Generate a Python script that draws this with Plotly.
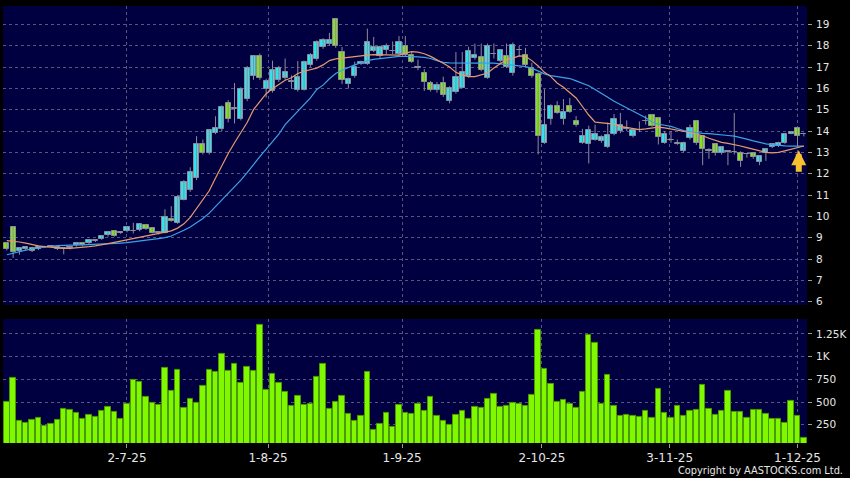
from plotly import graph_objects as go
from plotly.subplots import make_subplots

# trading-day labels shown on the time axis (bar index where each date falls)
tick_labels = ['2-7-25', '1-8-25', '1-9-25', '2-10-25', '3-11-25', '1-12-25']
tick_pos = [19, 41.3, 62.5, 84.6, 104.8, 125]

open_ = [8.73, 9.48, 8.37, 8.47, 8.53, 8.47, 8.56, 8.59, 8.58, 8.50,
         8.52, 8.65, 8.75, 8.77, 8.86, 8.96, 9.11, 9.30, 9.22, 9.30,
         9.31, 9.36, 9.61, 9.45, 9.23, 9.23, 9.90, 9.70, 10.79, 11.23,
         11.78, 13.37, 12.99, 13.93, 14.08, 15.32, 15.04, 14.58, 15.52, 16.57,
         17.50, 15.99, 15.86, 16.38, 16.49, 16.30, 15.91, 15.94, 17.08, 17.39,
         17.94, 18.10, 19.27, 17.70, 16.19, 16.58, 17.16, 17.16, 17.75, 17.50,
         17.80, 17.74, 17.61, 17.99, 17.55, 16.97, 16.74, 16.25, 15.91, 16.25,
         15.40, 15.83, 16.04, 16.57, 17.42, 17.47, 16.50, 17.60, 17.28, 17.50,
         16.70, 17.78, 17.55, 16.95, 16.66, 13.46, 14.55, 15.18, 14.58, 15.18,
         14.47, 13.46, 13.37, 13.60, 13.52, 13.27, 13.88, 13.99, 14.10, 13.79,
         14.03, 14.45, 14.77, 14.63, 13.46, 13.57, 13.42, 13.07, 13.65, 14.47,
         13.77, 13.08, 13.37, 12.99, 13.05, 13.00, 12.99, 12.90, 12.98, 12.55,
         12.98, 13.26, 13.29, 13.44, 13.88, 14.16, 13.85]
high = [8.80, 9.52, 8.52, 8.60, 8.57, 8.62, 8.62, 8.63, 8.60, 8.52,
        8.56, 8.78, 8.78, 8.92, 8.92, 9.10, 9.28, 9.32, 9.27, 9.52,
        9.70, 9.68, 9.64, 9.48, 9.30, 10.33, 10.48, 11.00, 11.70, 12.30,
        13.76, 13.60, 14.10, 14.69, 15.20, 15.45, 16.25, 16.05, 17.05, 17.55,
        17.63, 16.45, 17.30, 17.05, 17.40, 16.61, 17.28, 17.30, 17.65, 18.25,
        18.35, 18.60, 19.30, 17.94, 16.50, 17.25, 17.30, 18.80, 18.41, 18.00,
        18.10, 18.20, 18.45, 18.45, 17.70, 17.35, 16.90, 16.35, 16.30, 16.55,
        16.10, 17.70, 17.70, 17.95, 18.10, 18.10, 18.10, 18.10, 17.80, 18.10,
        18.15, 18.00, 17.90, 17.20, 16.75, 15.96, 15.25, 15.40, 15.50, 15.55,
        14.70, 14.10, 14.25, 14.30, 13.80, 14.40, 14.80, 14.85, 14.50, 14.10,
        14.45, 14.72, 14.80, 14.66, 14.00, 14.00, 13.60, 13.50, 14.30, 14.50,
        13.80, 13.20, 13.40, 13.30, 13.10, 14.85, 13.05, 12.95, 13.00, 12.85,
        13.20, 13.40, 13.50, 13.90, 14.00, 14.20, 13.92]
low = [8.40, 8.05, 8.20, 8.40, 8.33, 8.42, 8.52, 8.54, 8.42, 8.22,
       8.45, 8.58, 8.60, 8.70, 8.80, 8.90, 9.05, 9.05, 9.18, 9.25,
       9.20, 9.30, 9.36, 9.20, 9.15, 9.20, 9.75, 9.65, 10.75, 11.15,
       11.70, 12.90, 12.90, 13.85, 14.00, 14.40, 14.35, 14.50, 15.40, 16.40,
       16.40, 15.57, 15.80, 16.30, 16.40, 15.99, 15.85, 15.90, 17.00, 17.30,
       17.85, 18.00, 17.90, 16.20, 15.99, 16.50, 17.10, 17.10, 17.70, 17.40,
       17.60, 17.60, 17.55, 17.50, 17.20, 16.85, 15.88, 15.85, 15.80, 15.60,
       15.30, 15.75, 16.00, 16.50, 17.35, 16.80, 16.45, 17.40, 17.20, 16.95,
       16.60, 17.50, 17.00, 16.50, 12.91, 13.40, 14.30, 14.80, 14.30, 14.85,
       14.20, 13.40, 12.48, 13.55, 13.45, 13.20, 13.80, 13.90, 14.00, 13.70,
       13.95, 14.30, 14.20, 13.37, 13.40, 13.45, 13.35, 13.00, 13.60, 13.35,
       12.40, 12.70, 12.85, 12.90, 12.40, 12.90, 12.32, 12.75, 12.70, 12.40,
       12.60, 13.20, 13.25, 13.40, 13.85, 13.30, 13.75]
close = [8.45, 8.34, 8.50, 8.57, 8.40, 8.57, 8.58, 8.58, 8.48, 8.49,
         8.53, 8.75, 8.68, 8.89, 8.86, 9.07, 9.25, 9.07, 9.23, 9.48,
         9.32, 9.64, 9.39, 9.23, 9.24, 9.98, 9.79, 10.89, 11.62, 12.09,
         13.37, 12.99, 14.04, 14.12, 15.13, 14.58, 15.05, 15.99, 16.97, 17.50,
         16.49, 16.35, 16.88, 16.97, 16.75, 16.30, 16.53, 17.24, 17.58, 18.17,
         18.28, 18.28, 17.97, 16.38, 16.46, 17.00, 17.24, 18.17, 17.94, 17.94,
         18.00, 17.75, 18.17, 17.58, 17.24, 16.98, 16.30, 15.91, 16.18, 15.68,
         16.04, 16.53, 16.77, 17.75, 17.58, 16.88, 17.97, 17.62, 17.78, 17.00,
         18.02, 17.80, 17.08, 16.57, 13.76, 14.30, 15.18, 14.85, 14.89, 14.89,
         14.27, 13.77, 14.07, 13.88, 13.70, 13.82, 14.58, 14.27, 14.12, 14.04,
         14.05, 14.47, 14.24, 13.70, 13.88, 13.58, 13.41, 13.46, 14.16, 13.44,
         13.18, 13.07, 12.97, 13.26, 13.04, 13.02, 12.60, 12.91, 12.79, 12.82,
         13.18, 13.37, 13.46, 13.88, 13.96, 13.77, 13.86]

# moving averages as drawn on the chart
ma_short = [8.86, 8.84, 8.80, 8.75, 8.68, 8.62, 8.58, 8.55, 8.52, 8.50,
            8.50, 8.52, 8.55, 8.58, 8.62, 8.66, 8.72, 8.78, 8.84, 8.90,
            8.97, 9.04, 9.10, 9.16, 9.20, 9.26, 9.32, 9.45, 9.65, 9.95,
            10.35, 10.75, 11.20, 11.80, 12.40, 12.95, 13.45, 13.90, 14.40, 15.00,
            15.35, 15.75, 15.98, 16.20, 16.38, 16.50, 16.70, 16.80, 16.88, 16.95,
            17.10, 17.30, 17.38, 17.42, 17.45, 17.48, 17.52, 17.56, 17.58, 17.58,
            17.56, 17.55, 17.56, 17.65, 17.72, 17.70, 17.62, 17.50, 17.35, 17.18,
            17.00, 16.75, 16.62, 16.55, 16.55, 16.62, 16.72, 16.95, 17.15, 17.35,
            17.42, 17.52, 17.50, 17.30, 17.05, 16.75, 16.55, 16.25, 16.05, 15.80,
            15.55, 15.15, 14.75, 14.42, 14.38, 14.35, 14.32, 14.22, 14.18, 14.12,
            14.07, 14.10, 14.15, 14.18, 14.15, 14.10, 14.04, 13.98, 13.93, 13.86,
            13.78, 13.66, 13.55, 13.47, 13.42, 13.37, 13.30, 13.22, 13.14, 13.05,
            13.00, 12.98, 13.00, 13.07, 13.15, 13.23, 13.30]
ma_long = [8.20, 8.28, 8.35, 8.42, 8.47, 8.52, 8.56, 8.60, 8.63, 8.65,
           8.65, 8.65, 8.66, 8.67, 8.68, 8.70, 8.72, 8.73, 8.75, 8.77,
           8.80, 8.84, 8.88, 8.92, 8.96, 9.00, 9.08, 9.20, 9.35, 9.50,
           9.68, 9.90, 10.15, 10.45, 10.75, 11.05, 11.40, 11.70, 12.05, 12.45,
           12.80, 13.15, 13.50, 13.85, 14.30, 14.60, 14.95, 15.25, 15.55, 15.95,
           16.15, 16.45, 16.70, 16.85, 16.98, 17.10, 17.20, 17.30, 17.36, 17.40,
           17.44, 17.47, 17.50, 17.50, 17.50, 17.48, 17.45, 17.40, 17.30, 17.22,
           17.19, 17.18, 17.17, 17.17, 17.18, 17.19, 17.19, 17.18, 17.15, 17.12,
           17.10, 17.08, 17.02, 16.95, 16.80, 16.68, 16.60, 16.55, 16.50, 16.46,
           16.35, 16.22, 16.12, 15.95, 15.75, 15.58, 15.40, 15.25, 15.10, 14.95,
           14.80, 14.62, 14.42, 14.32, 14.27, 14.22, 14.12, 14.02, 13.97, 13.92,
           13.89, 13.88, 13.86, 13.83, 13.79, 13.76, 13.70, 13.62, 13.54, 13.46,
           13.40, 13.36, 13.32, 13.30, 13.29, 13.29, 13.29]

volume = [499, 770, 294, 268, 301, 320, 239, 257, 305, 422,
          418, 378, 312, 360, 338, 400, 444, 389, 316, 477,
          748, 722, 554, 492, 466, 880, 620, 851, 440, 539,
          495, 682, 854, 836, 1027, 843, 924, 712, 891, 843,
          1349, 635, 814, 708, 616, 455, 565, 473, 484, 774,
          920, 426, 506, 565, 371, 290, 349, 829, 195, 261,
          375, 224, 466, 382, 367, 477, 400, 554, 345, 290,
          246, 360, 397, 309, 448, 433, 536, 587, 451, 459,
          488, 484, 462, 576, 1290, 862, 697, 499, 528, 477,
          430, 616, 1235, 1155, 481, 799, 462, 349, 356, 342,
          338, 397, 323, 642, 378, 323, 462, 349, 404, 418,
          686, 426, 360, 400, 624, 386, 386, 320, 411, 411,
          367, 316, 309, 268, 514, 349, 107]

day = list(range(len(close)))

BG = '#000040'
GRID = '#55557f'
TEXT = '#e6e6e6'
UP = '#2fe4ef'
DOWN = '#84e21e'
EDGE = '#8c8c9c'

# candle pieces: wick segments and bodies (bars spanning open..close)
wick_x, wick_y = [], []
for i in day:
    wick_x += [i, i, None]
    wick_y += [low[i], high[i], None]
body_base = [min(o, c) for o, c in zip(open_, close)]
body_len = [max(abs(c - o), 0.025) for o, c in zip(open_, close)]
body_col = [UP if c >= o else DOWN for o, c in zip(open_, close)]

fig = make_subplots(rows=2, cols=1, shared_xaxes=True)

fig.add_trace(go.Scatter(
    x=wick_x, y=wick_y, mode='lines', line=dict(color=EDGE, width=1),
    hoverinfo='skip', showlegend=False,
), 1, 1)
fig.add_trace(go.Bar(
    x=day, y=body_len, base=body_base, width=0.82,
    marker=dict(color=body_col, line=dict(color=EDGE, width=1)),
    showlegend=False,
), 1, 1)

fig.add_trace(go.Scatter(
    x=day, y=ma_long, mode='lines',
    line=dict(color='#3ba3e6', width=1.2), showlegend=False,
), 1, 1)
fig.add_trace(go.Scatter(
    x=day, y=ma_short, mode='lines',
    line=dict(color='#e8996c', width=1.2), showlegend=False,
), 1, 1)

fig.add_trace(go.Bar(
    x=day, y=volume, width=0.86,
    marker=dict(color='#80f800', line=dict(color='#4a9a00', width=1)),
    showlegend=False,
), 2, 1)

fig.update_layout(
    width=850, height=478,
    margin=dict(l=3, r=43, t=6, b=35),
    paper_bgcolor='#000000',
    plot_bgcolor=BG,
    font=dict(family='DejaVu Sans', color=TEXT, size=11),
    bargap=0,
    yaxis=dict(domain=[0.316, 1]),
    yaxis2=dict(domain=[0, 0.284]),
)

fig.update_xaxes(
    range=[-0.6, 126.5], automargin=False,
    tickmode='array', tickvals=tick_pos, ticktext=tick_labels,
    showgrid=True, gridcolor=GRID, griddash='3px,3px', gridwidth=1,
    zeroline=False, showline=False,
)
fig.update_xaxes(showticklabels=False, ticks='', row=1, col=1)
fig.update_xaxes(ticks='outside', ticklen=4, tickcolor='#9a9a9a',
                 tickfont=dict(size=12, color=TEXT), row=2, col=1)

fig.update_yaxes(
    side='right', automargin=False,
    showgrid=True, gridcolor=GRID, griddash='3px,3px',
    zeroline=False, showline=False,
    ticks='outside', ticklen=4, tickcolor='#9a9a9a',
    ticklabelstandoff=2,
    tickfont=dict(size=10.5, color=TEXT),
)
fig.update_yaxes(range=[5.85, 19.86], tickmode='linear', tick0=6, dtick=1,
                 row=1, col=1)
fig.update_yaxes(range=[49, 1415], tickmode='array',
                 tickvals=[250, 500, 750, 1000, 1250],
                 ticktext=['250', '500', '750', '1K', '1.25K'],
                 row=2, col=1)

# signal arrow at the latest bar
fig.add_annotation(
    x=125.2, y=13.1, xref='x', yref='y', text='',
    showarrow=True, ax=0, ay=23, arrowhead=2, arrowsize=0.5,
    arrowwidth=6, arrowcolor='#f6c12e',
)

fig.add_annotation(
    text='Copyright by AASTOCKS.com Ltd.',
    xref='paper', yref='paper', x=1.047, y=-0.063,
    xanchor='right', yanchor='middle', showarrow=False,
    font=dict(size=9.8, color=TEXT),
)

# page has a default body margin; drop it so the figure fills the window
fig.write_html('out.html', config={'displayModeBar': False},
               post_script="document.body.style.margin='0';")
